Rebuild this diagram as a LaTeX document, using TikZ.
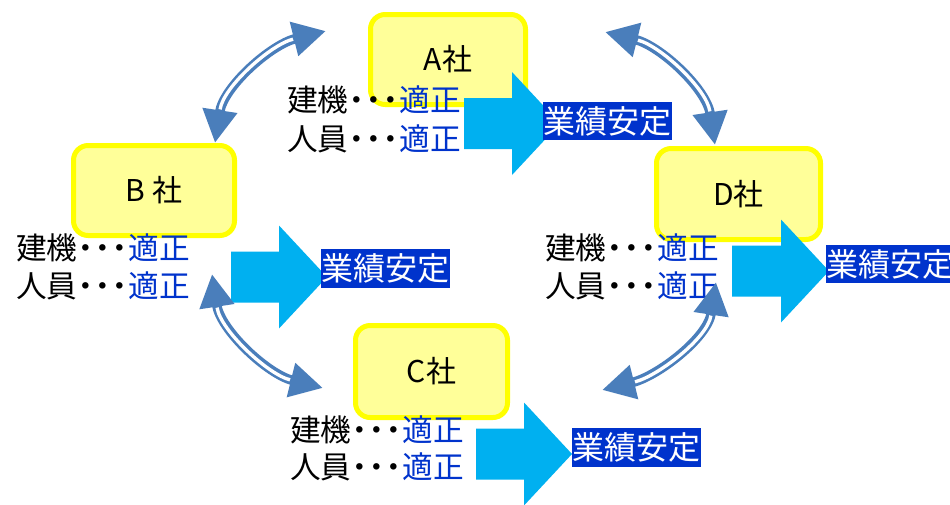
\documentclass[tikz,border=0pt]{standalone}
\usepackage{fontspec}
\setmainfont{Noto Sans CJK JP}
\usetikzlibrary{arrows.meta,calc}
\definecolor{boxfill}{HTML}{FFFF99}
\definecolor{boxline}{HTML}{FFFF00}
\definecolor{okblue}{HTML}{0033CC}
\definecolor{labelbg}{HTML}{0033CC}
\definecolor{bigarrow}{HTML}{00B0F0}
\definecolor{linkblue}{HTML}{4A7EBB}
\tikzset{
  company/.style={draw=boxline, fill=boxfill, line width=3.75pt, rounded corners=11pt, inner sep=0pt, font=\fontsize{22.5pt}{26pt}\selectfont},
  status/.style={anchor=west, inner sep=0pt, font=\fontsize{23pt}{27pt}\selectfont},
  result/.style={fill=labelbg, text=white, inner sep=0pt, minimum width=96.75pt, minimum height=28.75pt, font=\fontsize{24pt}{28pt}\selectfont},
  flow/.style={fill=bigarrow},
  linkouter/.style={draw=linkblue, line width=7.1pt, {Triangle[length=24.75pt,width=24.75pt]}-{Triangle[length=24.75pt,width=24.75pt]}},
  linkinner/.style={draw=white, line width=2.5pt, shorten <=25.5pt, shorten >=25.5pt},
}
\newcommand{\mdot}{\makebox[12.75pt]{・}}
\newcommand{\statusline}[1]{#1\mdot\mdot\mdot{\color{okblue}適正}}
\newcommand{\twinlink}[4]{%
  \draw[linkouter] (#1) .. controls ($(#1)+(#2)$) and ($(#3)+(#4)$) .. (#3);
  \draw[linkinner] (#1) .. controls ($(#1)+(#2)$) and ($(#3)+(#4)$) .. (#3);
}
\newcommand{\bigflow}[4]{%
  \fill[flow] (#1,#2-25.5) -- (#3,#2-25.5) -- (#3,#2-51.5) -- (#4,#2) -- (#3,#2+51.5) -- (#3,#2+25.5) -- (#1,#2+25.5) -- cycle;
}
\begin{document}
\begin{tikzpicture}[x=0.75pt,y=-0.75pt]
\fill[white] (0,0) rectangle (950,504);
\useasboundingbox (0,0) rectangle (950,504);

% companies
\node[company, minimum width=116.25pt, minimum height=67.5pt] (A) at (448,59.5) {A社};
\node[company, minimum width=120.75pt, minimum height=67.5pt] (B) at (154,190.5) {B 社};
\node[company, minimum width=114pt, minimum height=69pt] (C) at (431.5,371.5) {C社};
\node[company, minimum width=123pt, minimum height=68.25pt] (D) at (738.5,194) {D社};

% status lines
\node[status] (a1) at (287,100) {\statusline{建機}};
\node[status] (a2) at (287,138.5) {\statusline{人員}};
\node[status] (b1) at (16,248) {\statusline{建機}};
\node[status] (b2) at (16,286) {\statusline{人員}};
\node[status] (c1) at (290,430) {\statusline{建機}};
\node[status] (c2) at (290,467) {\statusline{人員}};
\node[status] (d1) at (545,248) {\statusline{建機}};
\node[status] (d2) at (545,286) {\statusline{人員}};

% big arrows
\bigflow{464}{123.5}{512}{560}
\bigflow{231}{277}{279}{327}
\bigflow{476}{454}{524}{572}
\bigflow{732}{271}{781}{829}

% results
\node[result] (ra) at (607.5,121) {業績安定};
\node[result] (rb) at (385,268.5) {業績安定};
\node[result] (rc) at (636,447.5) {業績安定};
\node[result] (rd) at (890.5,264) {業績安定};

% links
\coordinate (ab1) at (215,143);
\coordinate (ab2) at (326,31);
\coordinate (ad1) at (715,145);
\coordinate (ad2) at (605,32);
\coordinate (bc1) at (212,274);
\coordinate (bc2) at (323,388);
\coordinate (dc1) at (716,282);
\coordinate (dc2) at (602,390);
\twinlink{ab1}{8.5,-56.4}{ab2}{-55.3,13.7}
\twinlink{ad1}{-8.5,-56.4}{ad2}{55.3,13.7}
\twinlink{bc1}{8.5,56.4}{bc2}{-55.3,-13.7}
\twinlink{dc1}{-8.5,56.4}{dc2}{55.3,-13.7}
\end{tikzpicture}
\end{document}
